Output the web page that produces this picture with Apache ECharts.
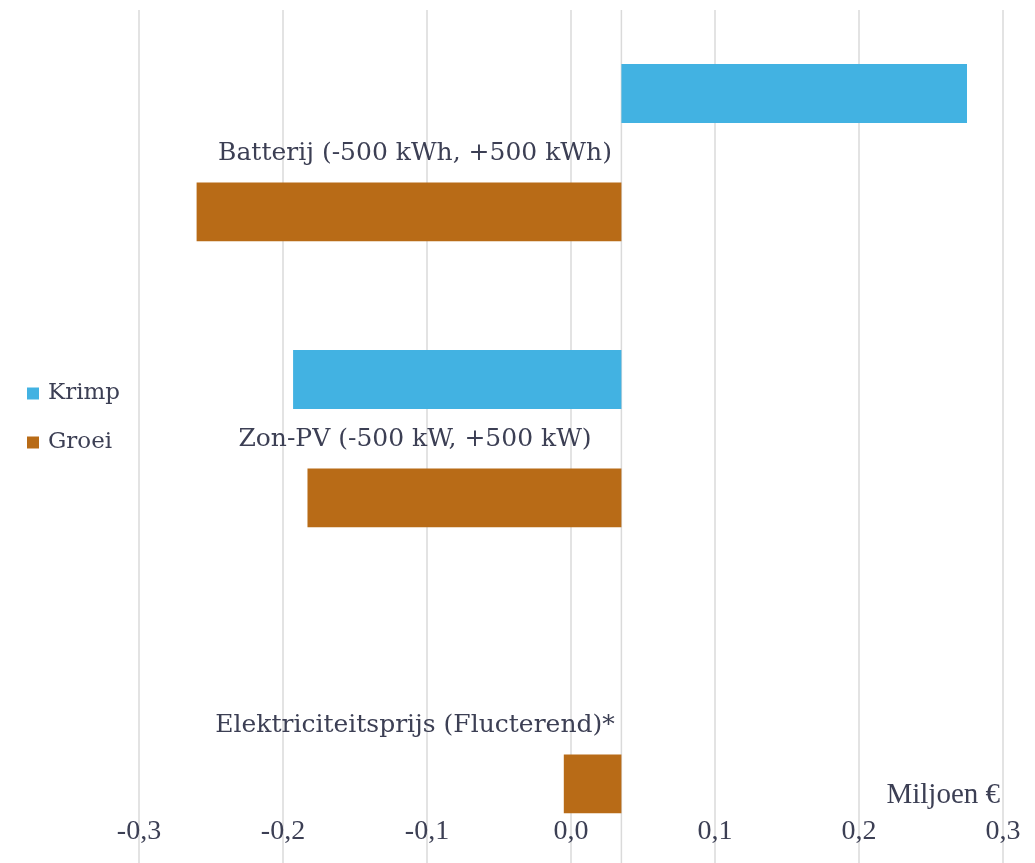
<!DOCTYPE html>
<html>
<head>
<meta charset="utf-8">
<script src="https://cdn.jsdelivr.net/npm/echarts@6/dist/echarts.min.js"></script>
<style>
  html, body { margin: 0; padding: 0; background: #ffffff; }
  #chart { width: 1035px; height: 863px; }
</style>
</head>
<body>
<div id="chart"></div>
<script>
// Tornado chart: change in result (million €) when each parameter shrinks or grows
const categories = [
  'Batterij (-500 kWh, +500 kWh)',
  'Zon-PV (-500 kW, +500 kW)',
  'Elektriciteitsprijs (Flucterend)*'
];
const baseValue = 0.035;              // reference case, where every bar starts
const krimpValues = [0.275, -0.193, null];
const groeiValues = [-0.26, -0.183, -0.005];
const xTicks = [-0.3, -0.2, -0.1, 0.0, 0.1, 0.2, 0.3];

const KRIMP_COLOR = '#42b2e2';
const GROEI_COLOR = '#b86b17';
const TEXT_COLOR = '#3c3f54';
const GRID_COLOR = '#dadada';

// Floating bar from the base value to the scenario value, shifted within the category band
function floatingBar(offsetFrac) {
  return function (params, api) {
    const cat = api.value(0);
    const v = api.value(1);
    const p0 = api.coord([baseValue, cat]);
    const p1 = api.coord([v, cat]);
    const band = api.size([0, 1])[1];
    const h = band * 0.206;
    const cy = p0[1] + offsetFrac * band;
    return {
      type: 'rect',
      shape: {
        x: Math.min(p0[0], p1[0]),
        y: cy - h / 2,
        width: Math.abs(p1[0] - p0[0]),
        height: h
      },
      style: api.style()
    };
  };
}

// Vertical reference line at the base value, across the whole plot height
function baseLine(params, api) {
  const cs = params.coordSys;
  const x = api.coord([api.value(0), 0])[0];
  return {
    type: 'line',
    shape: { x1: x, y1: cs.y, x2: x, y2: cs.y + cs.height },
    style: { stroke: GRID_COLOR, lineWidth: 1.5 }
  };
}

function toData(values) {
  const out = [];
  values.forEach(function (v, i) { if (v !== null) out.push([i, v]); });
  return out;
}

const chart = echarts.init(document.getElementById('chart'));
chart.setOption({
  animation: false,
  backgroundColor: '#ffffff',
  grid: { left: 139, right: 32, top: 10, bottom: -5, containLabel: false, outerBoundsMode: 'none' },
  legend: {
    orient: 'vertical',
    left: 22,
    top: 377,
    itemGap: 26,
    itemWidth: 12,
    itemHeight: 12,
    icon: 'rect',
    data: ['Krimp', 'Groei'],
    textStyle: {
      fontFamily: 'DejaVu Serif',
      fontSize: 23,
      color: TEXT_COLOR,
      padding: [0, 0, 0, 4]
    }
  },
  xAxis: {
    type: 'value',
    min: xTicks[0],
    max: xTicks[xTicks.length - 1],
    interval: 0.1,
    axisLine: { show: false },
    axisTick: { show: false },
    splitLine: { show: true, lineStyle: { color: GRID_COLOR, width: 1.5 } },
    axisLabel: {
      inside: true,
      margin: 22,
      fontFamily: 'Liberation Serif',
      fontSize: 28,
      color: TEXT_COLOR,
      formatter: function (v) { return v.toFixed(1).replace('.', ','); }
    }
  },
  yAxis: {
    type: 'category',
    data: categories,
    inverse: true,
    axisLine: { show: false, onZero: false },
    axisTick: { show: false },
    splitLine: { show: false },
    axisLabel: {
      align: 'center',
      margin: -276,
      fontFamily: 'DejaVu Serif',
      fontSize: 25,
      color: TEXT_COLOR,
      padding: [16, 0, 0, 0]
    }
  },
  graphic: [{
    type: 'text',
    right: 35,
    top: 781,
    style: {
      text: 'Miljoen €',
      fontFamily: 'Liberation Serif',
      fontSize: 29,
      fill: TEXT_COLOR
    }
  }],
  series: [
    {
      name: 'base',
      type: 'custom',
      silent: true,
      z: 1,
      renderItem: baseLine,
      encode: { x: 0 },
      data: [[baseValue]]
    },
    {
      name: 'Krimp',
      type: 'custom',
      z: 2,
      renderItem: floatingBar(-0.208),
      encode: { x: 1, y: 0 },
      itemStyle: { color: KRIMP_COLOR },
      data: toData(krimpValues)
    },
    {
      name: 'Groei',
      type: 'custom',
      z: 2,
      renderItem: floatingBar(0.206),
      encode: { x: 1, y: 0 },
      itemStyle: { color: GROEI_COLOR },
      data: toData(groeiValues)
    }
  ]
});
</script>
</body>
</html>
